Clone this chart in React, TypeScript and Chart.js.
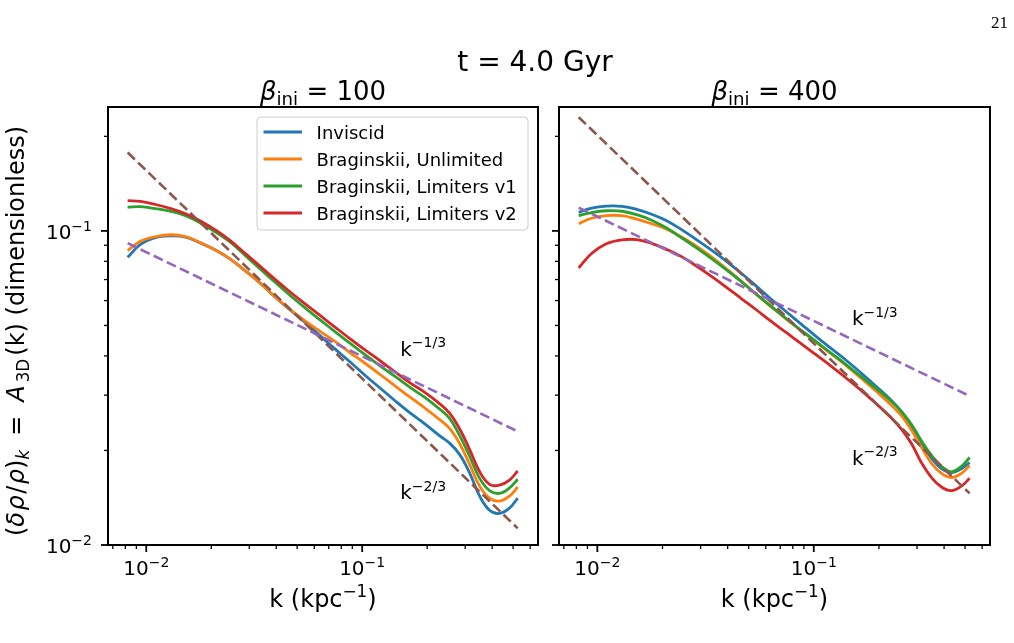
import React, { useEffect, useRef } from "react";
import { Chart, registerables } from "chart.js";

Chart.register(...registerables);

const FONT = '"DejaVu Sans", "Noto Sans", sans-serif';

// wavenumber k (kpc^-1)
const kValues = [0.0082, 0.0094, 0.011, 0.013, 0.0152, 0.0178, 0.0209, 0.0245, 0.0287, 0.0337, 0.0395, 0.0464, 0.0544, 0.0638, 0.0748, 0.0877, 0.103, 0.121, 0.142, 0.166, 0.195, 0.228, 0.254, 0.283, 0.314, 0.35, 0.389, 0.432, 0.481, 0.525];

// beta_ini = 100
const inviscid100 = [0.0824, 0.0906, 0.0952, 0.0964, 0.0955, 0.0916, 0.0869, 0.0813, 0.0747, 0.0682, 0.0616, 0.056, 0.0511, 0.0464, 0.0421, 0.0383, 0.0347, 0.0316, 0.0288, 0.0264, 0.0243, 0.0223, 0.0211, 0.0194, 0.017, 0.0143, 0.0129, 0.0126, 0.0131, 0.0141];
const unlimited100 = [0.0866, 0.0927, 0.0958, 0.0972, 0.0959, 0.0917, 0.0869, 0.0813, 0.0747, 0.0682, 0.0616, 0.0562, 0.0517, 0.0479, 0.0445, 0.041, 0.0379, 0.0349, 0.0321, 0.0296, 0.0273, 0.0251, 0.0235, 0.021, 0.0181, 0.0154, 0.0141, 0.0138, 0.0143, 0.0153];
const limitersV1_100 = [0.119, 0.1194, 0.1178, 0.1154, 0.1118, 0.106, 0.0992, 0.092, 0.0836, 0.0757, 0.0686, 0.0623, 0.0569, 0.0521, 0.0478, 0.0439, 0.0404, 0.0372, 0.0344, 0.0318, 0.0295, 0.0271, 0.0253, 0.0223, 0.0192, 0.0163, 0.0149, 0.0146, 0.0152, 0.0162];
const limitersV2_100 = [0.1249, 0.1241, 0.1214, 0.1178, 0.1134, 0.1076, 0.1007, 0.0931, 0.0848, 0.0771, 0.0701, 0.0639, 0.0586, 0.0538, 0.0494, 0.0454, 0.0418, 0.0386, 0.0356, 0.0329, 0.0306, 0.0282, 0.0263, 0.0234, 0.0202, 0.0171, 0.0156, 0.0155, 0.0161, 0.0172];

// beta_ini = 400
const inviscid400 = [0.1146, 0.1181, 0.1199, 0.1197, 0.1171, 0.113, 0.1078, 0.1009, 0.0938, 0.0868, 0.08, 0.0732, 0.0666, 0.0605, 0.0552, 0.0504, 0.046, 0.0421, 0.0386, 0.0352, 0.0319, 0.0289, 0.0266, 0.0238, 0.021, 0.0189, 0.0175, 0.017, 0.0175, 0.0183];
const unlimited400 = [0.1054, 0.1097, 0.1119, 0.1118, 0.109, 0.1054, 0.1013, 0.0956, 0.0894, 0.0826, 0.0757, 0.069, 0.0626, 0.0572, 0.0524, 0.048, 0.0441, 0.0405, 0.0371, 0.0339, 0.0308, 0.0279, 0.0258, 0.0232, 0.0205, 0.0182, 0.0169, 0.0164, 0.0169, 0.0179];
const limitersV1_400 = [0.1118, 0.1144, 0.1159, 0.1155, 0.1126, 0.1081, 0.1021, 0.0951, 0.0883, 0.0816, 0.0751, 0.0688, 0.0628, 0.0574, 0.0525, 0.0482, 0.0443, 0.0407, 0.0374, 0.0343, 0.0314, 0.0287, 0.0266, 0.0242, 0.0215, 0.0193, 0.0178, 0.0171, 0.0178, 0.019];
const limitersV2_400 = [0.0762, 0.0847, 0.091, 0.0937, 0.0938, 0.0913, 0.0873, 0.0828, 0.0773, 0.0716, 0.0661, 0.0608, 0.056, 0.0514, 0.0474, 0.0437, 0.0402, 0.037, 0.0339, 0.031, 0.0281, 0.0254, 0.0234, 0.021, 0.0183, 0.0164, 0.0153, 0.0149, 0.0154, 0.0163];

// reference power laws (end points)
const refK = [0.0082, 0.525];
const slopeTwoThirds100 = [0.1776, 0.0113];
const slopeOneThird100 = [0.0914, 0.023];
const slopeTwoThirds400 = [0.2301, 0.0146];
const slopeOneThird400 = [0.1186, 0.0298];

const seriesNames = ["Inviscid", "Braginskii, Unlimited", "Braginskii, Limiters v1", "Braginskii, Limiters v2"];
const seriesColors = ["#1f77b4", "#ff7f0e", "#2ca02c", "#d62728"];
const refColors = ["#8c564b", "#9467bd"];
const refExponents = ["−2/3", "−1/3"];
const refLabelK = [0.15, 0.15];
const refLabelY100 = [0.014, 0.04];
const refLabelY400 = [0.018, 0.05];

const xLimits = [0.00665, 0.652];
const yLimits = [0.01, 0.248];
const majorTickValues = [0.01, 0.1];
const majorTickExponents = ["−2", "−1"];
const suptitleText = "t = 4.0 Gyr";
const panelBetas = ["100", "400"];
const pageNumber = "21";

type Part = { t: string; size: number; italic?: boolean; dy?: number; family?: string; gap?: number };

function fontOf(p: Part) {
  return `${p.italic ? "italic " : ""}${p.size}px ${p.family || FONT}`;
}

function drawRich(ctx: CanvasRenderingContext2D, parts: Part[], x: number, y: number, align: "left" | "center" | "right") {
  let w = 0;
  for (const p of parts) {
    ctx.font = fontOf(p);
    w += ctx.measureText(p.t).width + (p.gap || 0);
  }
  let cx = align === "left" ? x : align === "center" ? x - w / 2 : x - w;
  ctx.textAlign = "left";
  ctx.textBaseline = "alphabetic";
  for (const p of parts) {
    ctx.font = fontOf(p);
    if (p.t) ctx.fillText(p.t, cx, y + (p.dy || 0));
    cx += ctx.measureText(p.t).width + (p.gap || 0);
  }
}

function line(ctx: CanvasRenderingContext2D, x1: number, y1: number, x2: number, y2: number) {
  ctx.beginPath();
  ctx.moveTo(x1, y1);
  ctx.lineTo(x2, y2);
  ctx.stroke();
}

const decorPlugin = {
  id: "decor",
  afterDraw(chart: any) {
    const o = chart.options.plugins.decor;
    const ctx: CanvasRenderingContext2D = chart.ctx;
    const a = chart.chartArea;
    const xs = chart.scales.x;
    const ys = chart.scales.y;
    ctx.save();
    ctx.fillStyle = "#000";
    ctx.strokeStyle = "#000";

    // tick marks
    for (let n = -3; n <= 0; n++) {
      for (let m = 1; m <= 9; m++) {
        const v = m * Math.pow(10, n);
        const major = m === 1;
        const len = major ? 7 : 4;
        ctx.lineWidth = major ? 1.8 : 1.3;
        if (v >= xLimits[0] && v <= xLimits[1]) {
          const px = xs.getPixelForValue(v);
          line(ctx, px, a.bottom, px, a.bottom + len);
        }
        if (v >= yLimits[0] * 0.999 && v <= yLimits[1]) {
          const py = ys.getPixelForValue(v);
          line(ctx, a.left - len, py, a.left, py);
        }
      }
    }

    // frame
    ctx.lineWidth = 2;
    ctx.strokeRect(a.left, a.top, a.right - a.left, a.bottom - a.top);

    // x tick labels
    majorTickValues.forEach((v, i) => {
      drawRich(ctx, [{ t: "10", size: 20 }, { t: majorTickExponents[i], size: 14, dy: -8 }], xs.getPixelForValue(v), a.bottom + 30, "center");
    });

    // x axis title
    drawRich(ctx, [{ t: "k (kpc", size: 24 }, { t: "−1", size: 16.8, dy: -10 }, { t: ")", size: 24 }], (a.left + a.right) / 2, 607, "center");

    // panel title
    drawRich(ctx, [
      { t: "β", size: 26, italic: true },
      { t: "ini", size: 18.2, dy: 5 },
      { t: " = " + o.beta, size: 26 },
    ], (a.left + a.right) / 2, 100, "center");

    // power-law annotations
    o.labelY.forEach((yv: number, i: number) => {
      drawRich(ctx, [{ t: "k", size: 20 }, { t: refExponents[i], size: 14, dy: -8.5 }], xs.getPixelForValue(refLabelK[i]), ys.getPixelForValue(yv), "left");
    });

    if (o.main) {
      // y tick labels
      majorTickValues.forEach((v, i) => {
        drawRich(ctx, [{ t: "10", size: 20 }, { t: majorTickExponents[i], size: 14, dy: -8 }], a.left - 16, ys.getPixelForValue(v) + 8.3, "right");
      });

      // y axis title (rotated)
      ctx.save();
      ctx.translate(24, 331);
      ctx.rotate(-Math.PI / 2);
      drawRich(ctx, [
        { t: "(", size: 24 },
        { t: "δ", size: 24, italic: true, gap: 1.5 },
        { t: "ρ", size: 24, italic: true, gap: 1.5 },
        { t: "/", size: 24, gap: 1.5 },
        { t: "ρ", size: 24, italic: true },
        { t: ")", size: 24 },
        { t: "k", size: 16.8, italic: true, dy: 5, gap: 14 },
        { t: "=", size: 24, gap: 14 },
        { t: "A", size: 24, italic: true, gap: 3 },
        { t: "3D", size: 16.8, dy: 5, gap: 3 },
        { t: "(k) (dimensionless)", size: 24 },
      ], 0, 0, "center");
      ctx.restore();

      // legend
      const bw = 271;
      const bh = 113;
      const bx = a.right - 10 - bw;
      const by = a.top + 10;
      ctx.beginPath();
      ctx.roundRect(bx, by, bw, bh, 4);
      ctx.fillStyle = "rgba(255,255,255,0.8)";
      ctx.fill();
      ctx.strokeStyle = "#cccccc";
      ctx.lineWidth = 1;
      ctx.stroke();
      seriesNames.forEach((name, i) => {
        const cy = by + 15 + i * 27;
        ctx.strokeStyle = seriesColors[i];
        ctx.lineWidth = 2.8;
        line(ctx, bx + 6.5, cy, bx + 45, cy);
        ctx.fillStyle = "#000";
        drawRich(ctx, [{ t: name, size: 18 }], bx + 59.6, cy + 6.6, "left");
      });

      // figure title and page number
      ctx.fillStyle = "#000";
      drawRich(ctx, [{ t: suptitleText, size: 28 }], 535, 71, "center");
      drawRich(ctx, [{ t: pageNumber, size: 17, family: '"Liberation Serif", serif' }], 1008, 28, "right");
    }
    ctx.restore();
  },
};

function buildConfig(panel: number) {
  const series = panel === 0
    ? [inviscid100, unlimited100, limitersV1_100, limitersV2_100]
    : [inviscid400, unlimited400, limitersV1_400, limitersV2_400];
  const refs = panel === 0 ? [slopeTwoThirds100, slopeOneThird100] : [slopeTwoThirds400, slopeOneThird400];
  const datasets: any[] = series.map((vals, i) => ({
    label: seriesNames[i],
    data: kValues.map((k, j) => ({ x: k, y: vals[j] })),
    borderColor: seriesColors[i],
    borderWidth: 2.8,
    pointRadius: 0,
    fill: false,
    tension: 0.4,
    order: 10 - i,
  }));
  refs.forEach((r, j) => {
    datasets.push({
      label: "ref" + j,
      data: refK.map((k, m) => ({ x: k, y: r[m] })),
      borderColor: refColors[j],
      borderWidth: 2.6,
      borderDash: [10, 4.5],
      pointRadius: 0,
      fill: false,
      order: 5 - j,
    });
  });
  const yAxisWidth = panel === 0 ? 108 : 559;
  const rightPad = panel === 0 ? 1014 - 538 : 1014 - 990;
  return {
    type: "line",
    data: { datasets },
    options: {
      responsive: false,
      animation: false,
      devicePixelRatio: 1,
      events: [],
      layout: { padding: { left: 0, top: 107, right: rightPad, bottom: 0 } },
      plugins: {
        legend: { display: false },
        tooltip: { enabled: false },
        title: { display: false },
        decor: {
          main: panel === 0,
          beta: panelBetas[panel],
          labelY: panel === 0 ? refLabelY100 : refLabelY400,
        },
      },
      scales: {
        x: {
          type: "logarithmic",
          min: xLimits[0],
          max: xLimits[1],
          position: "bottom",
          ticks: { display: false },
          grid: { display: false },
          border: { display: false },
          afterFit: (s: any) => { s.height = 98; },
        },
        y: {
          type: "logarithmic",
          min: yLimits[0],
          max: yLimits[1],
          position: "left",
          ticks: { display: false },
          grid: { display: false },
          border: { display: false },
          afterFit: (s: any) => { s.width = yAxisWidth; },
        },
      },
    },
    plugins: [decorPlugin],
  };
}

export default function App() {
  const leftRef = useRef<HTMLCanvasElement>(null);
  const rightRef = useRef<HTMLCanvasElement>(null);
  useEffect(() => {
    const c1 = new Chart(leftRef.current as HTMLCanvasElement, buildConfig(0) as any);
    const c2 = new Chart(rightRef.current as HTMLCanvasElement, buildConfig(1) as any);
    return () => {
      c1.destroy();
      c2.destroy();
    };
  }, []);
  return (
    <div style={{ position: "absolute", left: 0, top: 0, width: 1014, height: 643, background: "#fff" }}>
      <canvas ref={leftRef} width={1014} height={643} style={{ position: "absolute", left: 0, top: 0 }} />
      <canvas ref={rightRef} width={1014} height={643} style={{ position: "absolute", left: 0, top: 0 }} />
    </div>
  );
}
